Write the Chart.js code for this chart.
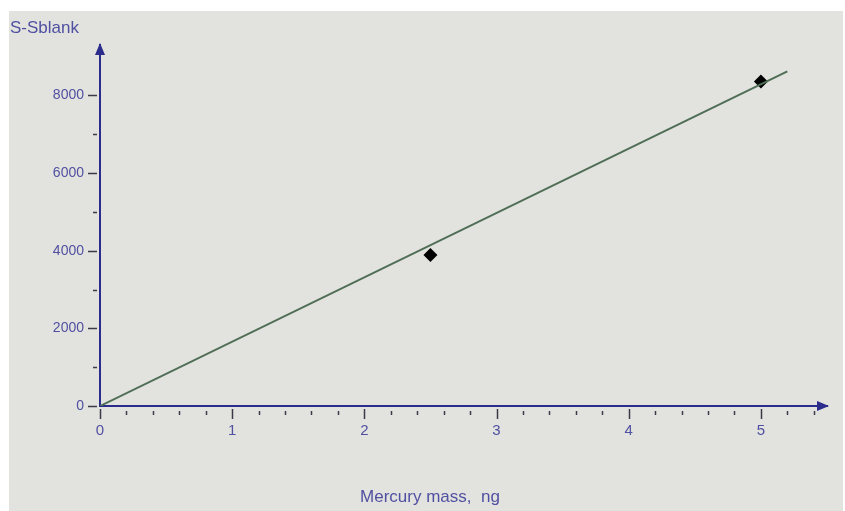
<!DOCTYPE html>
<html>
<head>
<meta charset="utf-8">
<script src="https://cdn.jsdelivr.net/npm/chart.js@4.4.1/dist/chart.umd.min.js"></script>
<style>
  html, body { margin: 0; padding: 0; background: #ffffff; }
  #chart { display: block; }
</style>
</head>
<body>
<canvas id="chart" width="845" height="511"></canvas>
<script>
  // measured points
  const massNg = [2.5, 5];
  const signal = [3890, 8360];

  // calibration line end points
  const fitMass = [0, 5.2];
  const fitSignal = [0, 8620];

  const xTicks = [0, 1, 2, 3, 4, 5];
  const yTicks = [0, 2000, 4000, 6000, 8000];

  const axisColor = '#2c2c8c';
  const labelColor = '#5050a2';
  const tickMarkColor = '#3a3a4a';

  const axesPlugin = {
    id: 'axesPlugin',
    beforeDraw(chart) {
      const c = chart.ctx;
      c.save();
      c.fillStyle = '#e2e2de';
      c.fillRect(9, 11, 834, 500);
      c.restore();
    },
    afterDraw(chart) {
      const c = chart.ctx;
      const area = chart.chartArea;
      const xs = chart.scales.x;
      const ys = chart.scales.y;
      c.save();

      // tick marks
      c.strokeStyle = tickMarkColor;
      c.lineWidth = 1.5;
      for (let v = 0; v <= 5.41; v += 0.2) {
        const px = Math.round(xs.getPixelForValue(v)) + 0.5;
        const major = Math.abs(v - Math.round(v)) < 0.01;
        c.beginPath();
        c.moveTo(px, area.bottom + (major ? 3 : 5));
        c.lineTo(px, area.bottom + (major ? 13 : 9));
        c.stroke();
      }
      for (let v = 0; v <= 8000; v += 1000) {
        const py = Math.round(ys.getPixelForValue(v)) + 0.5;
        const major = v % 2000 === 0;
        c.beginPath();
        c.moveTo(area.left - (major ? 12 : 7), py);
        c.lineTo(area.left - 3, py);
        c.stroke();
      }

      // arrow heads
      c.fillStyle = axisColor;
      c.beginPath();
      c.moveTo(area.right + 2, area.bottom);
      c.lineTo(area.right - 10, area.bottom - 5);
      c.lineTo(area.right - 10, area.bottom + 5);
      c.closePath();
      c.fill();
      c.beginPath();
      c.moveTo(area.left, area.top - 2);
      c.lineTo(area.left - 5, area.top + 10);
      c.lineTo(area.left + 5, area.top + 10);
      c.closePath();
      c.fill();

      // axis titles
      c.fillStyle = labelColor;
      c.font = '17px "Liberation Sans", Arial, sans-serif';
      c.textBaseline = 'alphabetic';
      c.textAlign = 'left';
      c.fillText('S-Sblank', 10, 33);
      c.textAlign = 'center';
      c.fillText('Mercury mass,  ng', 430, 502);
      c.restore();
    }
  };

  new Chart(document.getElementById('chart'), {
    type: 'scatter',
    data: {
      datasets: [{
        label: 'fit',
        data: fitMass.map((x, i) => ({ x: x, y: fitSignal[i] })),
        showLine: true,
        borderColor: '#4f6e55',
        borderWidth: 2,
        pointRadius: 0
      }, {
        label: 'samples',
        data: massNg.map((x, i) => ({ x: x, y: signal[i] })),
        showLine: false,
        pointStyle: 'rectRot',
        pointRadius: 7,
        backgroundColor: '#000000',
        borderColor: '#000000',
        borderWidth: 0
      }]
    },
    options: {
      responsive: false,
      animation: false,
      layout: { padding: { left: 9, top: 45, right: 18, bottom: 0 } },
      plugins: {
        legend: { display: false },
        tooltip: { enabled: false }
      },
      scales: {
        x: {
          type: 'linear',
          min: 0,
          max: 5.5,
          afterBuildTicks: (scale) => { scale.ticks = xTicks.map(v => ({ value: v })); },
          afterFit: (scale) => { scale.height = 105; scale.paddingLeft = 0; scale.paddingRight = 0; },
          grid: { drawOnChartArea: false, drawTicks: false },
          border: { display: true, color: axisColor, width: 2 },
          ticks: {
            padding: 16,
            color: labelColor,
            font: { family: '"Liberation Sans", Arial, sans-serif', size: 15 },
            maxRotation: 0
          }
        },
        y: {
          type: 'linear',
          min: 0,
          max: 9300,
          afterBuildTicks: (scale) => { scale.ticks = yTicks.map(v => ({ value: v })); },
          afterFit: (scale) => { scale.width = 91; scale.paddingTop = 0; scale.paddingBottom = 0; },
          grid: { drawOnChartArea: false, drawTicks: false },
          border: { display: true, color: axisColor, width: 2 },
          ticks: {
            padding: 16,
            color: labelColor,
            font: { family: '"Liberation Sans", Arial, sans-serif', size: 14 },
            callback: (v) => String(v)
          }
        }
      }
    },
    plugins: [axesPlugin]
  });
</script>
</body>
</html>
